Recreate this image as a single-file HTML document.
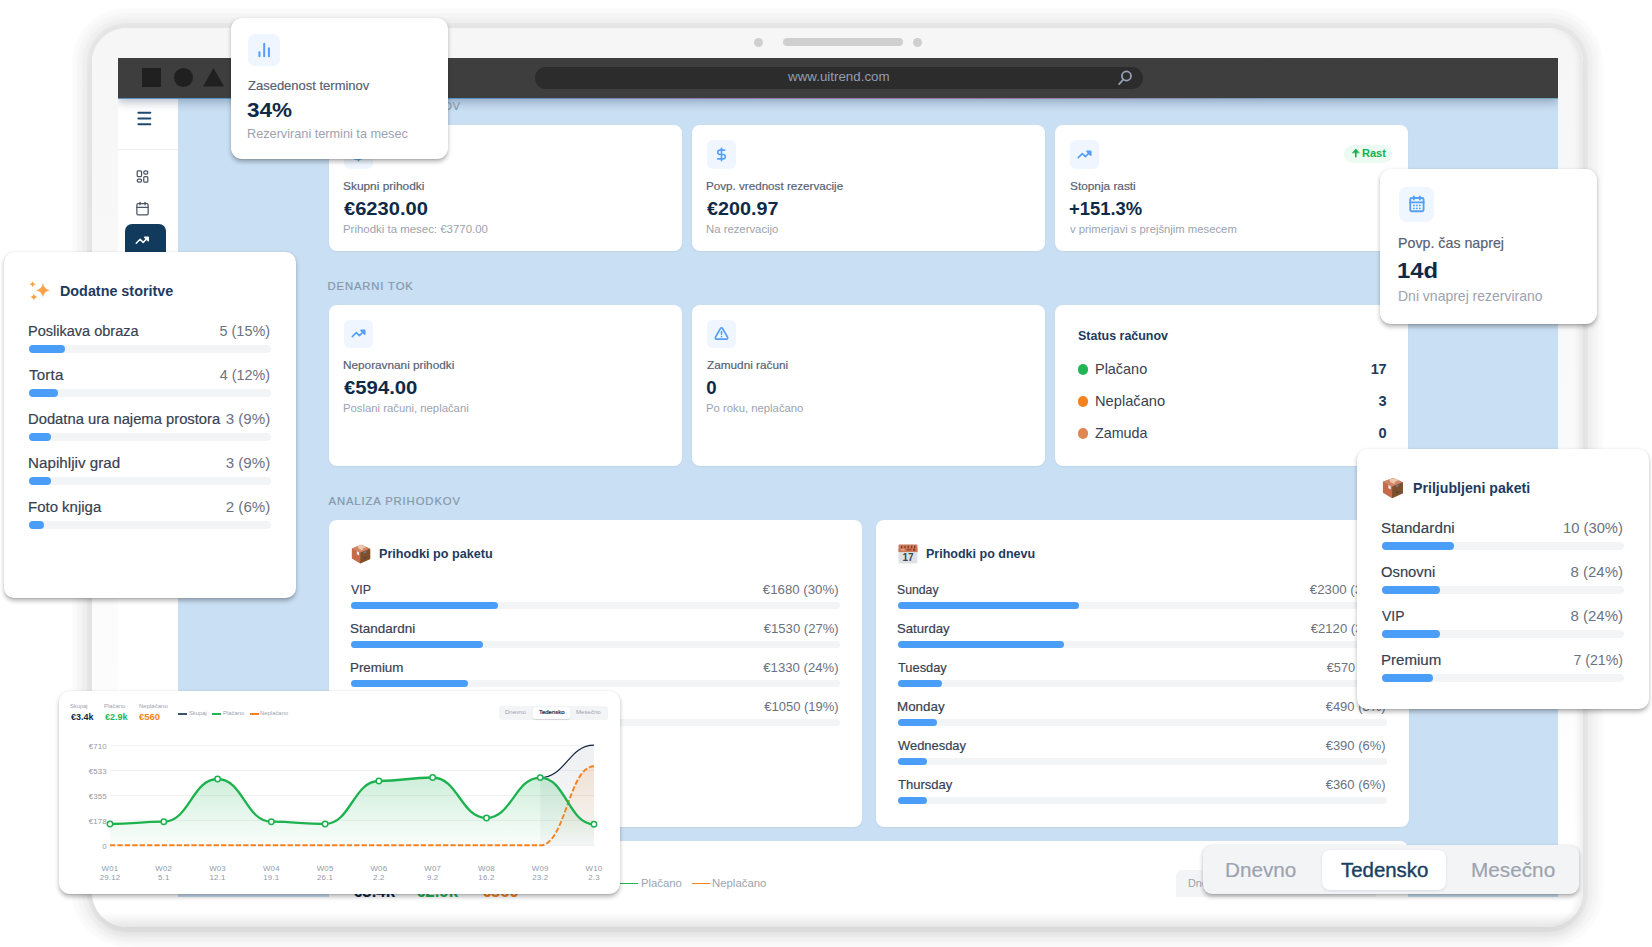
<!DOCTYPE html>
<html lang="sl"><head><meta charset="utf-8"><title>Dashboard</title>
<style>
*{box-sizing:border-box;margin:0;padding:0}
html,body{width:1652px;height:947px;overflow:hidden;background:#fff}
body{position:relative;font-family:"Liberation Sans",Arial,sans-serif;-webkit-font-smoothing:antialiased}
div,span.t,svg{position:absolute}
span.t{white-space:nowrap;display:block}
span.c{text-align:center}
.device{left:92.3px;top:27.6px;width:1491.2px;height:899px;border-radius:35px;
 background:linear-gradient(180deg,#f6f6f6 0px,#f7f7f7 120px,#fafafa 400px,#fcfcfd 640px,#ffffff 800px,#ffffff 884px,#f3f3f3 892px,#e6e6e6 899px);
 box-shadow:inset -8px 0 6px -4px rgba(0,0,0,.07),0 0 1.5px 5px rgba(0,0,0,.04),0 0 1.5px 10px rgba(0,0,0,.024),0 0 1.5px 15px rgba(0,0,0,.0204),0 0 2px 20px rgba(0,0,0,.02),0 15px 14px -5px rgba(0,0,0,.05)}
.screen{left:118px;top:58px;width:1440px;height:839px;overflow:hidden;background:#c9dff3}
.screen>.in{left:-118px;top:-58px;width:1652px;height:947px}
</style></head>
<body>
<div class="device"></div>
<div style="left:754.00px;top:37.50px;width:9.00px;height:9.00px;background:#cfcfcf;border-radius:50%;"></div>
<div style="left:783.00px;top:38.00px;width:120.00px;height:8.00px;background:#cfcfcf;border-radius:4px;"></div>
<div style="left:912.50px;top:37.50px;width:9.00px;height:9.00px;background:#cfcfcf;border-radius:50%;"></div>
<div class="screen"><div class="in">
<div style="left:118.00px;top:58.00px;width:1440.00px;height:840.00px;background:#c9dff3;"></div>
<div style="left:118.00px;top:99.00px;width:59.50px;height:800.00px;background:#fff;"></div>
<div style="left:118.00px;top:148.50px;width:59.50px;height:1.00px;background:#eef1f4;"></div>
<svg style="left:135.50px;top:110.20px;color:#1d4a70" width="17" height="17" viewBox="0 0 24 24" fill="none" stroke="currentColor" stroke-width="2.7" stroke-linecap="round" stroke-linejoin="round"><line x1="3.3" y1="3.8" x2="20.3" y2="3.8"/><line x1="3.3" y1="12" x2="20.3" y2="12"/><line x1="3.3" y1="20.2" x2="20.3" y2="20.2"/></svg>
<svg style="left:134.50px;top:169.00px;color:#4b5563" width="15" height="15" viewBox="0 0 24 24" fill="none" stroke="currentColor" stroke-width="2" stroke-linecap="round" stroke-linejoin="round"><rect x="3.5" y="3" width="7" height="9" rx="1.5"/><rect x="14" y="3" width="6.5" height="5" rx="2.5"/><rect x="3.5" y="16" width="7" height="5" rx="2.5"/><rect x="14" y="12" width="6.5" height="9" rx="1.5"/></svg>
<svg style="left:134.50px;top:200.50px;color:#4b5563" width="15" height="15" viewBox="0 0 24 24" fill="none" stroke="currentColor" stroke-width="2" stroke-linecap="round" stroke-linejoin="round"><rect x="3" y="4" width="18" height="18" rx="2"/><line x1="16" y1="2" x2="16" y2="6"/><line x1="8" y1="2" x2="8" y2="6"/><line x1="3" y1="10" x2="21" y2="10"/></svg>
<div style="left:124.70px;top:224.20px;width:41.50px;height:40.00px;background:#123a5c;border-radius:7px;"></div>
<svg style="left:135.00px;top:232.80px;color:#fff" width="14.5" height="14.5" viewBox="0 0 24 24" fill="none" stroke="currentColor" stroke-width="2.4" stroke-linecap="round" stroke-linejoin="round"><polyline points="21 8 13.5 15.5 8.5 10.5 2 17"/><path d="M16 7h6v6z" fill="currentColor"/></svg>
<div style="left:118.00px;top:58.00px;width:1440.00px;height:41.00px;background:#3e3e3e;box-shadow:0 3px 9px rgba(40,60,100,.36);"></div>
<div style="left:118.00px;top:98.00px;width:1440.00px;height:1.20px;background:linear-gradient(90deg,#5b93c4 0%,#5b93c4 25%,#8c7bb8 40%,#a071a8 60%,#7f9fbf 80%,#6fa9b8 100%);"></div>
<div style="left:142.00px;top:67.50px;width:19.00px;height:19.00px;background:#202020;"></div>
<div style="left:173.50px;top:67.50px;width:19.00px;height:19.00px;background:#202020;border-radius:50%;"></div>
<svg style="left:202px;top:67px" width="23" height="20" viewBox="0 0 23 20"><path d="M11.5 1 L22 19.5 L1 19.5 Z" fill="#202020"/></svg>
<div style="left:535.00px;top:67.00px;width:608.00px;height:22.00px;background:#2c2c2c;border-radius:11px;"></div>
<span class="t" style="top:71.20px;font-size:12.4px;line-height:12.4px;color:#8e9fb6;left:787.62px;transform:scaleX(1.0768);transform-origin:left center;">www.uitrend.com</span>
<svg style="left:1117.30px;top:69.30px;color:#94a3b8" width="16.8" height="16.8" viewBox="0 0 24 24" fill="none" stroke="currentColor" stroke-width="2.5" stroke-linecap="round" stroke-linejoin="round"><circle cx="13.5" cy="10" r="6.5"/><line x1="9" y1="15" x2="3" y2="21.5"/></svg>
<span class="t" style="top:101.03px;font-size:11.3px;line-height:11.3px;color:#8697aa;letter-spacing:0.470px;-webkit-text-stroke:0.18px;left:327.57px;">PREGLED PRIHODKOV</span>
<span class="t" style="top:281.03px;font-size:11.3px;line-height:11.3px;color:#8697aa;letter-spacing:0.844px;-webkit-text-stroke:0.18px;left:327.57px;">DENARNI TOK</span>
<span class="t" style="top:496.03px;font-size:11.3px;line-height:11.3px;color:#8697aa;letter-spacing:0.884px;-webkit-text-stroke:0.18px;left:328.48px;">ANALIZA PRIHODKOV</span>
<div style="left:329.00px;top:125.00px;width:352.50px;height:126.00px;background:#fff;border-radius:8px;box-shadow:0 1px 2px rgba(15,42,71,.06);"></div>
<div style="left:343.90px;top:140.00px;width:28.70px;height:28.70px;background:#eff6ff;border-radius:6.0px;"></div>
<svg style="left:350.75px;top:146.85px;color:#559ff8" width="15.00" height="15.00" viewBox="0 0 24 24" fill="none" stroke="currentColor" stroke-width="2.55" stroke-linecap="round" stroke-linejoin="round"><line x1="12" y1="2" x2="12" y2="22"/><path d="M17 5H9.5a3.5 3.5 0 0 0 0 7h5a3.5 3.5 0 0 1 0 7H6"/></svg>
<span class="t" style="top:180.67px;font-size:11.5px;line-height:11.5px;color:#556172;-webkit-text-stroke:0.18px;left:343.36px;transform:scaleX(1.0345);transform-origin:left center;">Skupni prihodki</span>
<span class="t" style="top:199.56px;font-size:18.6px;line-height:18.6px;color:#0f2a47;font-weight:700;left:343.80px;transform:scaleX(1.0817);transform-origin:left center;">€6230.00</span>
<span class="t" style="top:223.87px;font-size:11.5px;line-height:11.5px;color:#9ca3af;left:342.96px;transform:scaleX(0.9940);transform-origin:left center;">Prihodki ta mesec: €3770.00</span>
<div style="left:692.00px;top:125.00px;width:352.50px;height:126.00px;background:#fff;border-radius:8px;box-shadow:0 1px 2px rgba(15,42,71,.06);"></div>
<div style="left:706.90px;top:140.00px;width:28.70px;height:28.70px;background:#eff6ff;border-radius:6.0px;"></div>
<svg style="left:713.75px;top:146.85px;color:#559ff8" width="15.00" height="15.00" viewBox="0 0 24 24" fill="none" stroke="currentColor" stroke-width="2.55" stroke-linecap="round" stroke-linejoin="round"><line x1="12" y1="2" x2="12" y2="22"/><path d="M17 5H9.5a3.5 3.5 0 0 0 0 7h5a3.5 3.5 0 0 1 0 7H6"/></svg>
<span class="t" style="top:180.67px;font-size:11.5px;line-height:11.5px;color:#556172;-webkit-text-stroke:0.18px;left:705.95px;transform:scaleX(1.0123);transform-origin:left center;">Povp. vrednost rezervacije</span>
<span class="t" style="top:199.56px;font-size:18.6px;line-height:18.6px;color:#0f2a47;font-weight:700;left:706.80px;transform:scaleX(1.0629);transform-origin:left center;">€200.97</span>
<span class="t" style="top:223.87px;font-size:11.5px;line-height:11.5px;color:#9ca3af;left:705.97px;transform:scaleX(0.9851);transform-origin:left center;">Na rezervacijo</span>
<div style="left:1055.30px;top:125.00px;width:352.70px;height:126.00px;background:#fff;border-radius:8px;box-shadow:0 1px 2px rgba(15,42,71,.06);"></div>
<div style="left:1070.20px;top:140.00px;width:28.70px;height:28.70px;background:#eff6ff;border-radius:6.0px;"></div>
<svg style="left:1077.05px;top:146.85px;color:#559ff8" width="15.00" height="15.00" viewBox="0 0 24 24" fill="none" stroke="currentColor" stroke-width="2.55" stroke-linecap="round" stroke-linejoin="round"><polyline points="21 8 13.5 15.5 8.5 10.5 2 17"/><path d="M16 7h6v6z" fill="currentColor"/></svg>
<span class="t" style="top:180.67px;font-size:11.5px;line-height:11.5px;color:#556172;-webkit-text-stroke:0.18px;left:1069.66px;transform:scaleX(1.0283);transform-origin:left center;">Stopnja rasti</span>
<span class="t" style="top:199.56px;font-size:18.6px;line-height:18.6px;color:#0f2a47;font-weight:700;left:1069.43px;transform:scaleX(0.9907);transform-origin:left center;">+151.3%</span>
<span class="t" style="top:223.87px;font-size:11.5px;line-height:11.5px;color:#9ca3af;left:1070.16px;transform:scaleX(0.9812);transform-origin:left center;">v primerjavi s prejšnjim mesecem</span>
<div style="left:1344.20px;top:145.30px;width:48.20px;height:17.80px;background:#ecfbf2;border-radius:9px;"></div>
<svg style="left:1350.30px;top:147.00px;color:#14b04b" width="11.6" height="11.6" viewBox="0 0 24 24" fill="none" stroke="currentColor" stroke-width="3.3" stroke-linecap="round" stroke-linejoin="round"><line x1="12" y1="20" x2="12" y2="6"/><path d="M5.5 11.5 L12 4.5 L18.5 11.5 Z" fill="currentColor" stroke-width="1.5"/></svg>
<span class="t" style="top:148.41px;font-size:11.8px;line-height:11.8px;color:#14b04b;letter-spacing:-0.058px;font-weight:700;left:1362.46px;transform:scaleX(0.9400);transform-origin:left center;">Rast</span>
<div style="left:329.00px;top:304.60px;width:352.50px;height:161.00px;background:#fff;border-radius:8px;box-shadow:0 1px 2px rgba(15,42,71,.06);"></div>
<div style="left:343.90px;top:319.60px;width:28.70px;height:28.70px;background:#eff6ff;border-radius:6.0px;"></div>
<svg style="left:350.75px;top:326.45px;color:#559ff8" width="15.00" height="15.00" viewBox="0 0 24 24" fill="none" stroke="currentColor" stroke-width="2.55" stroke-linecap="round" stroke-linejoin="round"><polyline points="21 8 13.5 15.5 8.5 10.5 2 17"/><path d="M16 7h6v6z" fill="currentColor"/></svg>
<span class="t" style="top:360.07px;font-size:11.5px;line-height:11.5px;color:#556172;-webkit-text-stroke:0.18px;left:342.93px;transform:scaleX(1.0237);transform-origin:left center;">Neporavnani prihodki</span>
<span class="t" style="top:379.26px;font-size:18.6px;line-height:18.6px;color:#0f2a47;font-weight:700;left:343.80px;transform:scaleX(1.0921);transform-origin:left center;">€594.00</span>
<span class="t" style="top:403.47px;font-size:11.5px;line-height:11.5px;color:#9ca3af;left:342.97px;transform:scaleX(0.9830);transform-origin:left center;">Poslani računi, neplačani</span>
<div style="left:692.00px;top:304.60px;width:352.50px;height:161.00px;background:#fff;border-radius:8px;box-shadow:0 1px 2px rgba(15,42,71,.06);"></div>
<div style="left:706.90px;top:319.60px;width:28.70px;height:28.70px;background:#eff6ff;border-radius:6.0px;"></div>
<svg style="left:713.75px;top:326.45px;color:#559ff8" width="15.00" height="15.00" viewBox="0 0 24 24" fill="none" stroke="currentColor" stroke-width="2.55" stroke-linecap="round" stroke-linejoin="round"><path d="m21.73 18-8-14a2 2 0 0 0-3.48 0l-8 14A2 2 0 0 0 4 21h16a2 2 0 0 0 1.73-3"/><line x1="12" y1="9" x2="12" y2="13"/><line x1="12" y1="17" x2="12.01" y2="17"/></svg>
<span class="t" style="top:360.07px;font-size:11.5px;line-height:11.5px;color:#556172;-webkit-text-stroke:0.18px;left:706.53px;transform:scaleX(1.0240);transform-origin:left center;">Zamudni računi</span>
<span class="t" style="top:379.26px;font-size:18.6px;line-height:18.6px;color:#0f2a47;font-weight:700;left:706.16px;">0</span>
<span class="t" style="top:403.47px;font-size:11.5px;line-height:11.5px;color:#9ca3af;left:705.97px;transform:scaleX(0.9829);transform-origin:left center;">Po roku, neplačano</span>
<div style="left:1055.30px;top:304.60px;width:352.70px;height:161.00px;background:#fff;border-radius:8px;box-shadow:0 1px 2px rgba(15,42,71,.06);"></div>
<span class="t" style="top:329.00px;font-size:13px;line-height:13px;color:#1e3a5f;font-weight:700;left:1077.64px;transform:scaleX(0.9584);transform-origin:left center;">Status računov</span>
<div style="left:1077.60px;top:364.10px;width:10.60px;height:10.60px;background:#22b455;border-radius:50%;"></div>
<span class="t" style="top:361.94px;font-size:14.6px;line-height:14.6px;color:#374151;left:1094.52px;transform:scaleX(0.9892);transform-origin:left center;">Plačano</span>
<span class="t" style="top:361.94px;font-size:14.6px;line-height:14.6px;color:#1e3a5f;letter-spacing:-0.300px;font-weight:700;right:265.66px;">17</span>
<div style="left:1077.60px;top:396.10px;width:10.60px;height:10.60px;background:#f58220;border-radius:50%;"></div>
<span class="t" style="top:393.94px;font-size:14.6px;line-height:14.6px;color:#374151;left:1094.50px;transform:scaleX(1.0044);transform-origin:left center;">Neplačano</span>
<span class="t" style="top:393.94px;font-size:14.6px;line-height:14.6px;color:#1e3a5f;letter-spacing:-0.300px;font-weight:700;right:265.77px;">3</span>
<div style="left:1077.60px;top:428.10px;width:10.60px;height:10.60px;background:#df8750;border-radius:50%;"></div>
<span class="t" style="top:425.94px;font-size:14.6px;line-height:14.6px;color:#374151;left:1095.25px;transform:scaleX(0.9793);transform-origin:left center;">Zamuda</span>
<span class="t" style="top:425.94px;font-size:14.6px;line-height:14.6px;color:#1e3a5f;letter-spacing:-0.300px;font-weight:700;right:265.70px;">0</span>
<div style="left:329.00px;top:519.70px;width:532.50px;height:307.00px;background:#fff;border-radius:8px;box-shadow:0 1px 2px rgba(15,42,71,.06);"></div>
<svg style="left:350.50px;top:543.70px" width="20" height="20" viewBox="0 0 36 36" stroke="none"><path d="M18.5 1.5 L34.5 8.5 L34.5 27 L16.5 35 L1.5 26 L1.5 8 Z" fill="#c66a49"/><path d="M18.5 1.5 L34.5 8.5 L17 15.5 L1.5 8 Z" fill="#d08566"/><path d="M17 15.5 L34.5 8.5 L34.5 27 L16.5 35 Z" fill="#7e4f2b"/><path d="M12 4.4 L18.5 1.5 L27.5 5.4 L21 8.3 L21 11.5 L14 8.6 Z" fill="#ecc9ad"/><path d="M10.5 13.2 L14.5 15 L14.5 20.5 L10.5 18.6 Z" fill="#e6edf5"/><circle cx="25.5" cy="25" r="1.3" fill="#2b2f45"/><path d="M23 14.5 L27.5 12.6 L27.5 15 L23 17 Z" fill="#6f86b5"/></svg>
<span class="t" style="top:548.26px;font-size:12.8px;line-height:12.8px;color:#1e3a5f;font-weight:700;left:378.76px;transform:scaleX(0.9866);transform-origin:left center;">Prihodki po paketu</span>
<span class="t" style="top:584.15px;font-size:12.7px;line-height:12.7px;color:#374151;-webkit-text-stroke:0.18px;left:350.95px;transform:scaleX(0.9775);transform-origin:left center;">VIP</span>
<span class="t" style="top:584.15px;font-size:12.7px;line-height:12.7px;color:#6b7280;right:813.18px;transform:scaleX(1.0440);transform-origin:right center;">€1680 (30%)</span>
<div style="left:351.00px;top:602.40px;width:488.50px;height:6.40px;background:#f3f4f6;border-radius:6.4px;"></div>
<div style="left:351.00px;top:602.40px;width:146.55px;height:6.40px;background:#4b9ef8;border-radius:6.4px;"></div>
<span class="t" style="top:623.15px;font-size:12.7px;line-height:12.7px;color:#374151;-webkit-text-stroke:0.18px;left:350.39px;transform:scaleX(1.0617);transform-origin:left center;">Standardni</span>
<span class="t" style="top:623.15px;font-size:12.7px;line-height:12.7px;color:#6b7280;right:813.19px;transform:scaleX(1.0301);transform-origin:right center;">€1530 (27%)</span>
<div style="left:351.00px;top:641.40px;width:488.50px;height:6.40px;background:#f3f4f6;border-radius:6.4px;"></div>
<div style="left:351.00px;top:641.40px;width:131.90px;height:6.40px;background:#4b9ef8;border-radius:6.4px;"></div>
<span class="t" style="top:662.15px;font-size:12.7px;line-height:12.7px;color:#374151;-webkit-text-stroke:0.18px;left:349.90px;transform:scaleX(1.0526);transform-origin:left center;">Premium</span>
<span class="t" style="top:662.15px;font-size:12.7px;line-height:12.7px;color:#6b7280;right:813.18px;transform:scaleX(1.0371);transform-origin:right center;">€1330 (24%)</span>
<div style="left:351.00px;top:680.40px;width:488.50px;height:6.40px;background:#f3f4f6;border-radius:6.4px;"></div>
<div style="left:351.00px;top:680.40px;width:117.24px;height:6.40px;background:#4b9ef8;border-radius:6.4px;"></div>
<span class="t" style="top:701.15px;font-size:12.7px;line-height:12.7px;color:#374151;-webkit-text-stroke:0.18px;left:350.39px;transform:scaleX(1.0192);transform-origin:left center;">Osnovni</span>
<span class="t" style="top:701.15px;font-size:12.7px;line-height:12.7px;color:#6b7280;right:813.19px;transform:scaleX(1.0232);transform-origin:right center;">€1050 (19%)</span>
<div style="left:351.00px;top:719.40px;width:488.50px;height:6.40px;background:#f3f4f6;border-radius:6.4px;"></div>
<div style="left:351.00px;top:719.40px;width:92.81px;height:6.40px;background:#4b9ef8;border-radius:6.4px;"></div>
<div style="left:876.00px;top:519.70px;width:532.50px;height:307.00px;background:#fff;border-radius:8px;box-shadow:0 1px 2px rgba(15,42,71,.06);"></div>
<svg style="left:897.50px;top:543.70px" width="20" height="20" viewBox="0 0 36 36" stroke="none"><rect x="1" y="1" width="34" height="34" rx="2" fill="#dfe1e6"/><rect x="1" y="1" width="34" height="13.5" rx="2" fill="#cd7a5c"/><rect x="1" y="9" width="34" height="5.5" fill="#cd7a5c"/><rect x="5.5" y="3.2" width="2.2" height="4.6" rx=".6" fill="#7a3a1c"/><rect x="11.5" y="3.2" width="2.2" height="4.6" rx=".6" fill="#7a3a1c"/><rect x="17.5" y="3.2" width="2.2" height="4.6" rx=".6" fill="#7a3a1c"/><rect x="23.5" y="3.2" width="2.2" height="4.6" rx=".6" fill="#7a3a1c"/><rect x="29" y="3.2" width="2.2" height="4.6" rx=".6" fill="#7a3a1c"/><rect x="6" y="8.8" width="6" height="3" fill="#e3a58c"/><rect x="15" y="8.5" width="9" height="3.3" fill="#a9502f"/><rect x="27" y="8.5" width="4" height="3.6" fill="#8a3f22"/><text x="18" y="31.2" font-family="Liberation Sans, sans-serif" font-size="19.5" font-weight="700" fill="#3a4556" text-anchor="middle" textLength="20" lengthAdjust="spacingAndGlyphs">17</text></svg>
<span class="t" style="top:548.26px;font-size:12.8px;line-height:12.8px;color:#1e3a5f;font-weight:700;left:925.76px;transform:scaleX(0.9777);transform-origin:left center;">Prihodki po dnevu</span>
<span class="t" style="top:584.15px;font-size:12.7px;line-height:12.7px;color:#374151;-webkit-text-stroke:0.18px;left:897.44px;transform:scaleX(0.9653);transform-origin:left center;">Sunday</span>
<span class="t" style="top:584.15px;font-size:12.7px;line-height:12.7px;color:#6b7280;right:266.18px;transform:scaleX(1.0440);transform-origin:right center;">€2300 (37%)</span>
<div style="left:898.00px;top:602.40px;width:488.50px;height:6.40px;background:#f3f4f6;border-radius:6.4px;"></div>
<div style="left:898.00px;top:602.40px;width:180.75px;height:6.40px;background:#4b9ef8;border-radius:6.4px;"></div>
<span class="t" style="top:623.15px;font-size:12.7px;line-height:12.7px;color:#374151;-webkit-text-stroke:0.18px;left:897.40px;transform:scaleX(1.0352);transform-origin:left center;">Saturday</span>
<span class="t" style="top:623.15px;font-size:12.7px;line-height:12.7px;color:#6b7280;right:266.19px;transform:scaleX(1.0301);transform-origin:right center;">€2120 (34%)</span>
<div style="left:898.00px;top:641.40px;width:488.50px;height:6.40px;background:#f3f4f6;border-radius:6.4px;"></div>
<div style="left:898.00px;top:641.40px;width:166.09px;height:6.40px;background:#4b9ef8;border-radius:6.4px;"></div>
<span class="t" style="top:662.15px;font-size:12.7px;line-height:12.7px;color:#374151;-webkit-text-stroke:0.18px;left:897.71px;transform:scaleX(1.0119);transform-origin:left center;">Tuesday</span>
<span class="t" style="top:662.15px;font-size:12.7px;line-height:12.7px;color:#6b7280;right:266.21px;transform:scaleX(1.0050);transform-origin:right center;">€570 (9%)</span>
<div style="left:898.00px;top:680.40px;width:488.50px;height:6.40px;background:#f3f4f6;border-radius:6.4px;"></div>
<div style="left:898.00px;top:680.40px;width:43.97px;height:6.40px;background:#4b9ef8;border-radius:6.4px;"></div>
<span class="t" style="top:701.15px;font-size:12.7px;line-height:12.7px;color:#374151;-webkit-text-stroke:0.18px;left:896.90px;transform:scaleX(1.0540);transform-origin:left center;">Monday</span>
<span class="t" style="top:701.15px;font-size:12.7px;line-height:12.7px;color:#6b7280;right:266.19px;transform:scaleX(1.0224);transform-origin:right center;">€490 (8%)</span>
<div style="left:898.00px;top:719.40px;width:488.50px;height:6.40px;background:#f3f4f6;border-radius:6.4px;"></div>
<div style="left:898.00px;top:719.40px;width:39.08px;height:6.40px;background:#4b9ef8;border-radius:6.4px;"></div>
<span class="t" style="top:740.15px;font-size:12.7px;line-height:12.7px;color:#374151;-webkit-text-stroke:0.18px;left:897.94px;transform:scaleX(1.0186);transform-origin:left center;">Wednesday</span>
<span class="t" style="top:740.15px;font-size:12.7px;line-height:12.7px;color:#6b7280;right:266.19px;transform:scaleX(1.0224);transform-origin:right center;">€390 (6%)</span>
<div style="left:898.00px;top:758.40px;width:488.50px;height:6.40px;background:#f3f4f6;border-radius:6.4px;"></div>
<div style="left:898.00px;top:758.40px;width:29.31px;height:6.40px;background:#4b9ef8;border-radius:6.4px;"></div>
<span class="t" style="top:779.15px;font-size:12.7px;line-height:12.7px;color:#374151;-webkit-text-stroke:0.18px;left:897.71px;transform:scaleX(1.0260);transform-origin:left center;">Thursday</span>
<span class="t" style="top:779.15px;font-size:12.7px;line-height:12.7px;color:#6b7280;right:266.19px;transform:scaleX(1.0224);transform-origin:right center;">€360 (6%)</span>
<div style="left:898.00px;top:797.40px;width:488.50px;height:6.40px;background:#f3f4f6;border-radius:6.4px;"></div>
<div style="left:898.00px;top:797.40px;width:29.31px;height:6.40px;background:#4b9ef8;border-radius:6.4px;"></div>
<div style="left:329.00px;top:840.50px;width:1079.00px;height:80.00px;background:#fff;border-radius:8px;"></div>
<span class="t" style="top:883.03px;font-size:16.5px;line-height:16.5px;color:#0f2a47;font-weight:700;left:352.92px;transform:scaleX(1.0187);transform-origin:left center;">€3.4k</span>
<span class="t" style="top:883.03px;font-size:16.5px;line-height:16.5px;color:#22b455;font-weight:700;left:415.92px;transform:scaleX(1.0187);transform-origin:left center;">€2.9k</span>
<span class="t" style="top:883.03px;font-size:16.5px;line-height:16.5px;color:#f58220;font-weight:700;left:481.92px;">€560</span>
<div style="left:620.00px;top:882.80px;width:17.50px;height:1.60px;background:#22b455;"></div>
<span class="t" style="top:878.07px;font-size:11.5px;line-height:11.5px;color:#9ca3af;left:640.57px;transform:scaleX(0.9842);transform-origin:left center;">Plačano</span>
<div style="left:692.00px;top:882.80px;width:17.50px;height:1.60px;background:#f58220;"></div>
<span class="t" style="top:878.07px;font-size:11.5px;line-height:11.5px;color:#9ca3af;left:712.07px;transform:scaleX(0.9895);transform-origin:left center;">Neplačano</span>
<div style="left:1176.00px;top:869.60px;width:200.00px;height:40.00px;background:#f3f4f6;border-radius:6px;"></div>
<span class="t" style="top:878.11px;font-size:10.5px;line-height:10.5px;color:#9ca3af;left:1188.11px;transform:scaleX(1.0318);transform-origin:left center;">Dnevno</span>
</div></div>
<div style="left:58.50px;top:690.90px;width:561.50px;height:203.00px;background:#fff;border-radius:11px;box-shadow:0 2.5px 4.5px rgba(0,0,0,.27), 0 0.5px 1px rgba(0,0,0,.08);"></div>
<span class="t" style="top:704.09px;font-size:5.8px;line-height:5.8px;color:#9ca3af;left:70.04px;transform:scaleX(0.9953);transform-origin:left center;">Skupaj</span>
<span class="t" style="top:712.62px;font-size:8.6px;line-height:8.6px;color:#0f2a47;font-weight:700;left:70.56px;transform:scaleX(1.0471);transform-origin:left center;">€3.4k</span>
<span class="t" style="top:704.09px;font-size:5.8px;line-height:5.8px;color:#9ca3af;left:104.32px;transform:scaleX(1.0128);transform-origin:left center;">Plačano</span>
<span class="t" style="top:712.62px;font-size:8.6px;line-height:8.6px;color:#22b455;font-weight:700;left:105.06px;transform:scaleX(1.0471);transform-origin:left center;">€2.9k</span>
<span class="t" style="top:704.09px;font-size:5.8px;line-height:5.8px;color:#9ca3af;left:138.51px;transform:scaleX(1.0365);transform-origin:left center;">Neplačano</span>
<span class="t" style="top:712.62px;font-size:8.6px;line-height:8.6px;color:#f58220;font-weight:700;left:139.25px;transform:scaleX(1.0941);transform-origin:left center;">€560</span>
<div style="left:178.00px;top:713.00px;width:9.30px;height:1.50px;background:#3b5571;"></div>
<span class="t" style="top:710.99px;font-size:5.8px;line-height:5.8px;color:#9ca3af;left:188.74px;transform:scaleX(0.9953);transform-origin:left center;">Skupaj</span>
<div style="left:212.00px;top:713.00px;width:9.30px;height:1.50px;background:#22b455;"></div>
<span class="t" style="top:710.99px;font-size:5.8px;line-height:5.8px;color:#9ca3af;left:222.52px;transform:scaleX(1.0128);transform-origin:left center;">Plačano</span>
<div style="left:249.70px;top:713.00px;width:9.30px;height:1.50px;background:#f58220;"></div>
<span class="t" style="top:710.99px;font-size:5.8px;line-height:5.8px;color:#9ca3af;left:260.22px;transform:scaleX(1.0180);transform-origin:left center;">Neplačano</span>
<div style="left:499.00px;top:706.00px;width:109.40px;height:13.80px;background:#f3f4f6;border-radius:3px;"></div>
<div style="left:533.30px;top:707.20px;width:36.80px;height:11.40px;background:#fff;border-radius:2.5px;box-shadow:0 .5px 1px rgba(15,42,71,.15);"></div>
<span class="t" style="top:710.16px;font-size:5.6px;line-height:5.6px;color:#9ca3af;left:505.31px;transform:scaleX(1.0748);transform-origin:left center;">Dnevno</span>
<span class="t" style="top:710.16px;font-size:5.6px;line-height:5.6px;color:#0f2a47;-webkit-text-stroke:0.18px;left:538.77px;transform:scaleX(1.0672);transform-origin:left center;">Tedensko</span>
<span class="t" style="top:710.16px;font-size:5.6px;line-height:5.6px;color:#9ca3af;letter-spacing:0.032px;left:575.70px;transform:scaleX(1.0800);transform-origin:left center;">Mesečno</span>
<svg style="left:0;top:0" width="1652" height="947" viewBox="0 0 1652 947" fill="none"><defs><linearGradient id="gg" x1="0" y1="0" x2="0" y2="1"><stop offset="0" stop-color="#22b455" stop-opacity=".22"/><stop offset="1" stop-color="#22b455" stop-opacity=".02"/></linearGradient><linearGradient id="ng" x1="0" y1="0" x2="0" y2="1"><stop offset="0" stop-color="#64748b" stop-opacity=".11"/><stop offset="1" stop-color="#64748b" stop-opacity=".05"/></linearGradient><linearGradient id="og" x1="0" y1="0" x2="0" y2="1"><stop offset="0" stop-color="#f58220" stop-opacity=".15"/><stop offset="1" stop-color="#f58220" stop-opacity="0"/></linearGradient></defs><line x1="110.3" y1="745.6" x2="594.2" y2="745.6" stroke="#ececee" stroke-width=".8"/><line x1="110.3" y1="770.5" x2="594.2" y2="770.5" stroke="#ececee" stroke-width=".8"/><line x1="110.3" y1="795.4" x2="594.2" y2="795.4" stroke="#ececee" stroke-width=".8"/><line x1="110.3" y1="820.4" x2="594.2" y2="820.4" stroke="#ececee" stroke-width=".8"/><line x1="110.3" y1="845.3" x2="594.2" y2="845.3" stroke="#ececee" stroke-width=".8"/><path d="M540.2 777.6 C565.5 777.6 568.7 745.2 594.0 745.2 L594.0 845.3 L540.2 845.3 Z" fill="url(#ng)"/><path d="M110.0 824.0 C135.3 824.0 138.5 821.7 163.8 821.7 C189.1 821.7 192.3 779.0 217.6 779.0 C242.8 779.0 246.1 821.7 271.3 821.7 C296.6 821.7 299.8 824.0 325.1 824.0 C350.4 824.0 353.6 781.0 378.9 781.0 C404.2 781.0 407.4 777.5 432.7 777.5 C458.0 777.5 461.2 818.0 486.5 818.0 C511.7 818.0 515.0 777.6 540.2 777.6 C565.5 777.6 568.7 824.3 594.0 824.3 L594.0 845.3 L110.0 845.3 Z" fill="url(#gg)"/><path d="M540.2 845.3 C565.5 845.3 568.7 766.3 594.0 766.3 L594.0 845.3 Z" fill="url(#og)"/><path d="M540.2 777.6 C565.5 777.6 568.7 745.2 594.0 745.2" stroke="#12263f" stroke-width="1.2"/><path d="M110.0 845.3 L540.2 845.3 C565.5 845.3 568.7 766.3 594.0 766.3" stroke="#f58220" stroke-width="1.9" stroke-dasharray="5.3 2.1"/><path d="M110.0 824.0 C135.3 824.0 138.5 821.7 163.8 821.7 C189.1 821.7 192.3 779.0 217.6 779.0 C242.8 779.0 246.1 821.7 271.3 821.7 C296.6 821.7 299.8 824.0 325.1 824.0 C350.4 824.0 353.6 781.0 378.9 781.0 C404.2 781.0 407.4 777.5 432.7 777.5 C458.0 777.5 461.2 818.0 486.5 818.0 C511.7 818.0 515.0 777.6 540.2 777.6 C565.5 777.6 568.7 824.3 594.0 824.3" stroke="#1cb24e" stroke-width="2.3"/><circle cx="110.0" cy="824.0" r="2.7" fill="#fff" stroke="#1cb24e" stroke-width="1.5"/><circle cx="163.8" cy="821.7" r="2.7" fill="#fff" stroke="#1cb24e" stroke-width="1.5"/><circle cx="217.6" cy="779.0" r="2.7" fill="#fff" stroke="#1cb24e" stroke-width="1.5"/><circle cx="271.3" cy="821.7" r="2.7" fill="#fff" stroke="#1cb24e" stroke-width="1.5"/><circle cx="325.1" cy="824.0" r="2.7" fill="#fff" stroke="#1cb24e" stroke-width="1.5"/><circle cx="378.9" cy="781.0" r="2.7" fill="#fff" stroke="#1cb24e" stroke-width="1.5"/><circle cx="432.7" cy="777.5" r="2.7" fill="#fff" stroke="#1cb24e" stroke-width="1.5"/><circle cx="486.5" cy="818.0" r="2.7" fill="#fff" stroke="#1cb24e" stroke-width="1.5"/><circle cx="540.2" cy="777.6" r="2.7" fill="#fff" stroke="#1cb24e" stroke-width="1.5"/><circle cx="594.0" cy="824.3" r="2.7" fill="#fff" stroke="#1cb24e" stroke-width="1.5"/></svg>
<span class="t" style="top:742.81px;font-size:7.9px;line-height:7.9px;color:#939aa7;letter-spacing:0.100px;right:1545.29px;">€710</span>
<span class="t" style="top:767.71px;font-size:7.9px;line-height:7.9px;color:#939aa7;letter-spacing:0.100px;right:1545.25px;">€533</span>
<span class="t" style="top:792.61px;font-size:7.9px;line-height:7.9px;color:#939aa7;letter-spacing:0.100px;right:1545.27px;">€355</span>
<span class="t" style="top:817.61px;font-size:7.9px;line-height:7.9px;color:#939aa7;letter-spacing:0.100px;right:1545.26px;">€178</span>
<span class="t" style="top:842.51px;font-size:7.9px;line-height:7.9px;color:#939aa7;letter-spacing:0.100px;right:1545.29px;">0</span>
<span class="t c" style="left:90.00px;top:864.90px;width:40px;font-size:7.9px;line-height:7.9px;color:#939aa7;letter-spacing:.2px">W01</span>
<span class="t c" style="left:90.00px;top:874.00px;width:40px;font-size:7.9px;line-height:7.9px;color:#939aa7;letter-spacing:.2px">29.12</span>
<span class="t c" style="left:143.78px;top:864.90px;width:40px;font-size:7.9px;line-height:7.9px;color:#939aa7;letter-spacing:.2px">W02</span>
<span class="t c" style="left:143.78px;top:874.00px;width:40px;font-size:7.9px;line-height:7.9px;color:#939aa7;letter-spacing:.2px">5.1</span>
<span class="t c" style="left:197.56px;top:864.90px;width:40px;font-size:7.9px;line-height:7.9px;color:#939aa7;letter-spacing:.2px">W03</span>
<span class="t c" style="left:197.56px;top:874.00px;width:40px;font-size:7.9px;line-height:7.9px;color:#939aa7;letter-spacing:.2px">12.1</span>
<span class="t c" style="left:251.34px;top:864.90px;width:40px;font-size:7.9px;line-height:7.9px;color:#939aa7;letter-spacing:.2px">W04</span>
<span class="t c" style="left:251.34px;top:874.00px;width:40px;font-size:7.9px;line-height:7.9px;color:#939aa7;letter-spacing:.2px">19.1</span>
<span class="t c" style="left:305.12px;top:864.90px;width:40px;font-size:7.9px;line-height:7.9px;color:#939aa7;letter-spacing:.2px">W05</span>
<span class="t c" style="left:305.12px;top:874.00px;width:40px;font-size:7.9px;line-height:7.9px;color:#939aa7;letter-spacing:.2px">26.1</span>
<span class="t c" style="left:358.90px;top:864.90px;width:40px;font-size:7.9px;line-height:7.9px;color:#939aa7;letter-spacing:.2px">W06</span>
<span class="t c" style="left:358.90px;top:874.00px;width:40px;font-size:7.9px;line-height:7.9px;color:#939aa7;letter-spacing:.2px">2.2</span>
<span class="t c" style="left:412.68px;top:864.90px;width:40px;font-size:7.9px;line-height:7.9px;color:#939aa7;letter-spacing:.2px">W07</span>
<span class="t c" style="left:412.68px;top:874.00px;width:40px;font-size:7.9px;line-height:7.9px;color:#939aa7;letter-spacing:.2px">9.2</span>
<span class="t c" style="left:466.46px;top:864.90px;width:40px;font-size:7.9px;line-height:7.9px;color:#939aa7;letter-spacing:.2px">W08</span>
<span class="t c" style="left:466.46px;top:874.00px;width:40px;font-size:7.9px;line-height:7.9px;color:#939aa7;letter-spacing:.2px">16.2</span>
<span class="t c" style="left:520.24px;top:864.90px;width:40px;font-size:7.9px;line-height:7.9px;color:#939aa7;letter-spacing:.2px">W09</span>
<span class="t c" style="left:520.24px;top:874.00px;width:40px;font-size:7.9px;line-height:7.9px;color:#939aa7;letter-spacing:.2px">23.2</span>
<span class="t c" style="left:574.02px;top:864.90px;width:40px;font-size:7.9px;line-height:7.9px;color:#939aa7;letter-spacing:.2px">W10</span>
<span class="t c" style="left:574.02px;top:874.00px;width:40px;font-size:7.9px;line-height:7.9px;color:#939aa7;letter-spacing:.2px">2.3</span>
<div style="left:231.30px;top:18.00px;width:216.70px;height:140.70px;background:#fff;border-radius:11px;box-shadow:0 2.5px 4.5px rgba(0,0,0,.27), 0 0.5px 1px rgba(0,0,0,.08);"></div>
<div style="left:248.00px;top:34.00px;width:32.00px;height:32.00px;background:#eff6ff;border-radius:6.9px;"></div>
<svg style="left:254.50px;top:40.50px;color:#559ff8" width="19.00" height="19.00" viewBox="0 0 24 24" fill="none" stroke="currentColor" stroke-width="2.55" stroke-linecap="round" stroke-linejoin="round"><line x1="5.6" y1="19.2" x2="5.6" y2="14.3"/><line x1="11.6" y1="19.2" x2="11.6" y2="3.6"/><line x1="17.6" y1="19.2" x2="17.6" y2="9.2"/></svg>
<span class="t" style="top:78.67px;font-size:13.142857142857142px;line-height:13.142857142857142px;color:#556172;-webkit-text-stroke:0.18px;left:247.59px;transform:scaleX(0.9896);transform-origin:left center;">Zasedenost terminov</span>
<span class="t" style="top:100.55px;font-size:19.9px;line-height:19.9px;color:#0f2a47;font-weight:700;left:247.48px;transform:scaleX(1.1326);transform-origin:left center;">34%</span>
<span class="t" style="top:127.17px;font-size:13.142857142857142px;line-height:13.142857142857142px;color:#9ca3af;left:246.96px;transform:scaleX(0.9673);transform-origin:left center;">Rezervirani termini ta mesec</span>
<div style="left:1380.00px;top:169.00px;width:217.00px;height:154.60px;background:#fff;border-radius:11px;box-shadow:0 2.5px 4.5px rgba(0,0,0,.27), 0 0.5px 1px rgba(0,0,0,.08);"></div>
<div style="left:1398.90px;top:186.70px;width:35.30px;height:35.30px;background:#eff6ff;border-radius:7.5px;"></div>
<svg style="left:1407.65px;top:195.45px;color:#559ff8" width="17.80" height="17.80" viewBox="0 0 24 24" fill="none" stroke="currentColor" stroke-width="2.55" stroke-linecap="round" stroke-linejoin="round"><rect x="3" y="4" width="18" height="18" rx="2"/><line x1="16" y1="2" x2="16" y2="6"/><line x1="8" y1="2" x2="8" y2="6"/><line x1="3" y1="10" x2="21" y2="10"/><path d="M8 14h.01M12 14h.01M16 14h.01M8 18h.01M12 18h.01M16 18h.01"/></svg>
<span class="t" style="top:236.13px;font-size:14.375px;line-height:14.375px;color:#556172;-webkit-text-stroke:0.18px;left:1397.73px;transform:scaleX(0.9911);transform-origin:left center;">Povp. čas naprej</span>
<span class="t" style="top:259.65px;font-size:21.2px;line-height:21.2px;color:#0f2a47;font-weight:700;left:1397.40px;transform:scaleX(1.1243);transform-origin:left center;">14d</span>
<span class="t" style="top:288.63px;font-size:14.375px;line-height:14.375px;color:#9ca3af;left:1397.75px;transform:scaleX(0.9739);transform-origin:left center;">Dni vnaprej rezervirano</span>
<div style="left:4.00px;top:252.00px;width:292.00px;height:345.50px;background:#fff;border-radius:10px;box-shadow:0 2.5px 4.5px rgba(0,0,0,.27), 0 0.5px 1px rgba(0,0,0,.08);"></div>
<svg style="left:29.30px;top:279.50px" width="21.8" height="21.8" viewBox="0 0 36 36" stroke="none" fill="#f6a24a"><path d="M23 5 Q24.68 15.32 35 17 Q24.68 18.68 23 29 Q21.32 18.68 11 17 Q21.32 15.32 23 5Z"/><path d="M8 22 Q8.84 27.16 14 28 Q8.84 28.84 8 34 Q7.16 28.84 2 28 Q7.16 27.16 8 22Z"/><path d="M6 2 Q6.7 6.3 11 7 Q6.7 7.7 6 12 Q5.3 7.7 1 7 Q5.3 6.3 6 2Z"/></svg>
<span class="t" style="top:284.06px;font-size:14.1px;line-height:14.1px;color:#1e3a5f;font-weight:700;left:59.84px;transform:scaleX(1.0179);transform-origin:left center;">Dodatne storitve</span>
<span class="t" style="top:324.15px;font-size:14.0px;line-height:14.0px;color:#374151;-webkit-text-stroke:0.18px;left:27.81px;transform:scaleX(1.0373);transform-origin:left center;">Poslikava obraza</span>
<span class="t" style="top:324.15px;font-size:14.0px;line-height:14.0px;color:#6b7280;right:1381.61px;transform:scaleX(1.0296);transform-origin:right center;">5 (15%)</span>
<div style="left:29.00px;top:345.00px;width:242.00px;height:8.00px;background:#f3f4f6;border-radius:8px;"></div>
<div style="left:29.00px;top:345.00px;width:36.30px;height:8.00px;background:#4b9ef8;border-radius:8px;"></div>
<span class="t" style="top:368.15px;font-size:14.0px;line-height:14.0px;color:#374151;letter-spacing:0.168px;-webkit-text-stroke:0.18px;left:28.66px;transform:scaleX(1.0800);transform-origin:left center;">Torta</span>
<span class="t" style="top:368.15px;font-size:14.0px;line-height:14.0px;color:#6b7280;right:1381.61px;transform:scaleX(1.0244);transform-origin:right center;">4 (12%)</span>
<div style="left:29.00px;top:389.00px;width:242.00px;height:8.00px;background:#f3f4f6;border-radius:8px;"></div>
<div style="left:29.00px;top:389.00px;width:29.04px;height:8.00px;background:#4b9ef8;border-radius:8px;"></div>
<span class="t" style="top:412.15px;font-size:14.0px;line-height:14.0px;color:#374151;-webkit-text-stroke:0.18px;left:27.79px;transform:scaleX(1.0554);transform-origin:left center;">Dodatna ura najema prostora</span>
<span class="t" style="top:412.15px;font-size:14.0px;line-height:14.0px;color:#6b7280;right:1381.56px;transform:scaleX(1.0795);transform-origin:right center;">3 (9%)</span>
<div style="left:29.00px;top:433.00px;width:242.00px;height:8.00px;background:#f3f4f6;border-radius:8px;"></div>
<div style="left:29.00px;top:433.00px;width:21.78px;height:8.00px;background:#4b9ef8;border-radius:8px;"></div>
<span class="t" style="top:456.15px;font-size:14.0px;line-height:14.0px;color:#374151;letter-spacing:0.043px;-webkit-text-stroke:0.18px;left:27.76px;transform:scaleX(1.0800);transform-origin:left center;">Napihljiv grad</span>
<span class="t" style="top:456.15px;font-size:14.0px;line-height:14.0px;color:#6b7280;right:1381.56px;transform:scaleX(1.0795);transform-origin:right center;">3 (9%)</span>
<div style="left:29.00px;top:477.00px;width:242.00px;height:8.00px;background:#f3f4f6;border-radius:8px;"></div>
<div style="left:29.00px;top:477.00px;width:21.78px;height:8.00px;background:#4b9ef8;border-radius:8px;"></div>
<span class="t" style="top:500.15px;font-size:14.0px;line-height:14.0px;color:#374151;-webkit-text-stroke:0.18px;left:27.77px;transform:scaleX(1.0693);transform-origin:left center;">Foto knjiga</span>
<span class="t" style="top:500.15px;font-size:14.0px;line-height:14.0px;color:#6b7280;letter-spacing:0.030px;right:1381.53px;transform:scaleX(1.0800);transform-origin:right center;">2 (6%)</span>
<div style="left:29.00px;top:521.00px;width:242.00px;height:8.00px;background:#f3f4f6;border-radius:8px;"></div>
<div style="left:29.00px;top:521.00px;width:14.52px;height:8.00px;background:#4b9ef8;border-radius:8px;"></div>
<div style="left:1357.00px;top:449.00px;width:291.50px;height:260.00px;background:#fff;border-radius:10px;box-shadow:0 2.5px 4.5px rgba(0,0,0,.27), 0 0.5px 1px rgba(0,0,0,.08);"></div>
<svg style="left:1382.30px;top:476.50px" width="21.8" height="21.8" viewBox="0 0 36 36" stroke="none"><path d="M18.5 1.5 L34.5 8.5 L34.5 27 L16.5 35 L1.5 26 L1.5 8 Z" fill="#c66a49"/><path d="M18.5 1.5 L34.5 8.5 L17 15.5 L1.5 8 Z" fill="#d08566"/><path d="M17 15.5 L34.5 8.5 L34.5 27 L16.5 35 Z" fill="#7e4f2b"/><path d="M12 4.4 L18.5 1.5 L27.5 5.4 L21 8.3 L21 11.5 L14 8.6 Z" fill="#ecc9ad"/><path d="M10.5 13.2 L14.5 15 L14.5 20.5 L10.5 18.6 Z" fill="#e6edf5"/><circle cx="25.5" cy="25" r="1.3" fill="#2b2f45"/><path d="M23 14.5 L27.5 12.6 L27.5 15 L23 17 Z" fill="#6f86b5"/></svg>
<span class="t" style="top:481.06px;font-size:14.1px;line-height:14.1px;color:#1e3a5f;font-weight:700;left:1412.85px;transform:scaleX(1.0043);transform-origin:left center;">Priljubljeni paketi</span>
<span class="t" style="top:521.15px;font-size:14.0px;line-height:14.0px;color:#374151;letter-spacing:0.059px;-webkit-text-stroke:0.18px;left:1381.31px;transform:scaleX(1.0800);transform-origin:left center;">Standardni</span>
<span class="t" style="top:521.15px;font-size:14.0px;line-height:14.0px;color:#6b7280;right:29.09px;transform:scaleX(1.0515);transform-origin:right center;">10 (30%)</span>
<div style="left:1382.00px;top:542.00px;width:241.50px;height:8.00px;background:#f3f4f6;border-radius:8px;"></div>
<div style="left:1382.00px;top:542.00px;width:72.45px;height:8.00px;background:#4b9ef8;border-radius:8px;"></div>
<span class="t" style="top:565.15px;font-size:14.0px;line-height:14.0px;color:#374151;-webkit-text-stroke:0.18px;left:1381.30px;transform:scaleX(1.0552);transform-origin:left center;">Osnovni</span>
<span class="t" style="top:565.15px;font-size:14.0px;line-height:14.0px;color:#6b7280;right:29.07px;transform:scaleX(1.0727);transform-origin:right center;">8 (24%)</span>
<div style="left:1382.00px;top:586.00px;width:241.50px;height:8.00px;background:#f3f4f6;border-radius:8px;"></div>
<div style="left:1382.00px;top:586.00px;width:57.96px;height:8.00px;background:#4b9ef8;border-radius:8px;"></div>
<span class="t" style="top:609.15px;font-size:14.0px;line-height:14.0px;color:#374151;-webkit-text-stroke:0.18px;left:1381.94px;transform:scaleX(0.9924);transform-origin:left center;">VIP</span>
<span class="t" style="top:609.15px;font-size:14.0px;line-height:14.0px;color:#6b7280;right:29.07px;transform:scaleX(1.0727);transform-origin:right center;">8 (24%)</span>
<div style="left:1382.00px;top:630.00px;width:241.50px;height:8.00px;background:#f3f4f6;border-radius:8px;"></div>
<div style="left:1382.00px;top:630.00px;width:57.96px;height:8.00px;background:#4b9ef8;border-radius:8px;"></div>
<span class="t" style="top:653.15px;font-size:14.0px;line-height:14.0px;color:#374151;-webkit-text-stroke:0.18px;left:1380.77px;transform:scaleX(1.0753);transform-origin:left center;">Premium</span>
<span class="t" style="top:653.15px;font-size:14.0px;line-height:14.0px;color:#6b7280;right:29.12px;transform:scaleX(1.0119);transform-origin:right center;">7 (21%)</span>
<div style="left:1382.00px;top:674.00px;width:241.50px;height:8.00px;background:#f3f4f6;border-radius:8px;"></div>
<div style="left:1382.00px;top:674.00px;width:50.72px;height:8.00px;background:#4b9ef8;border-radius:8px;"></div>
<div style="left:1203.00px;top:845.00px;width:376.00px;height:49.00px;background:#f3f4f6;border-radius:9px;box-shadow:0 2.5px 4.5px rgba(0,0,0,.27), 0 0.5px 1px rgba(0,0,0,.08);"></div>
<div style="left:1321.50px;top:850.00px;width:124.50px;height:40.00px;background:#fff;border-radius:8px;box-shadow:0 1px 3px rgba(15,42,71,.12);"></div>
<span class="t" style="top:860.27px;font-size:20px;line-height:20px;color:#9ca3af;-webkit-text-stroke:0.18px;left:1225.10px;transform:scaleX(1.0353);transform-origin:left center;">Dnevno</span>
<span class="t" style="top:860.27px;font-size:20px;line-height:20px;color:#1b3f63;left:1340.54px;transform:scaleX(1.0198);transform-origin:left center;-webkit-text-stroke:0.4px;">Tedensko</span>
<span class="t" style="top:860.27px;font-size:20px;line-height:20px;color:#9ca3af;-webkit-text-stroke:0.18px;left:1471.20px;transform:scaleX(1.0372);transform-origin:left center;">Mesečno</span>
</body></html>
